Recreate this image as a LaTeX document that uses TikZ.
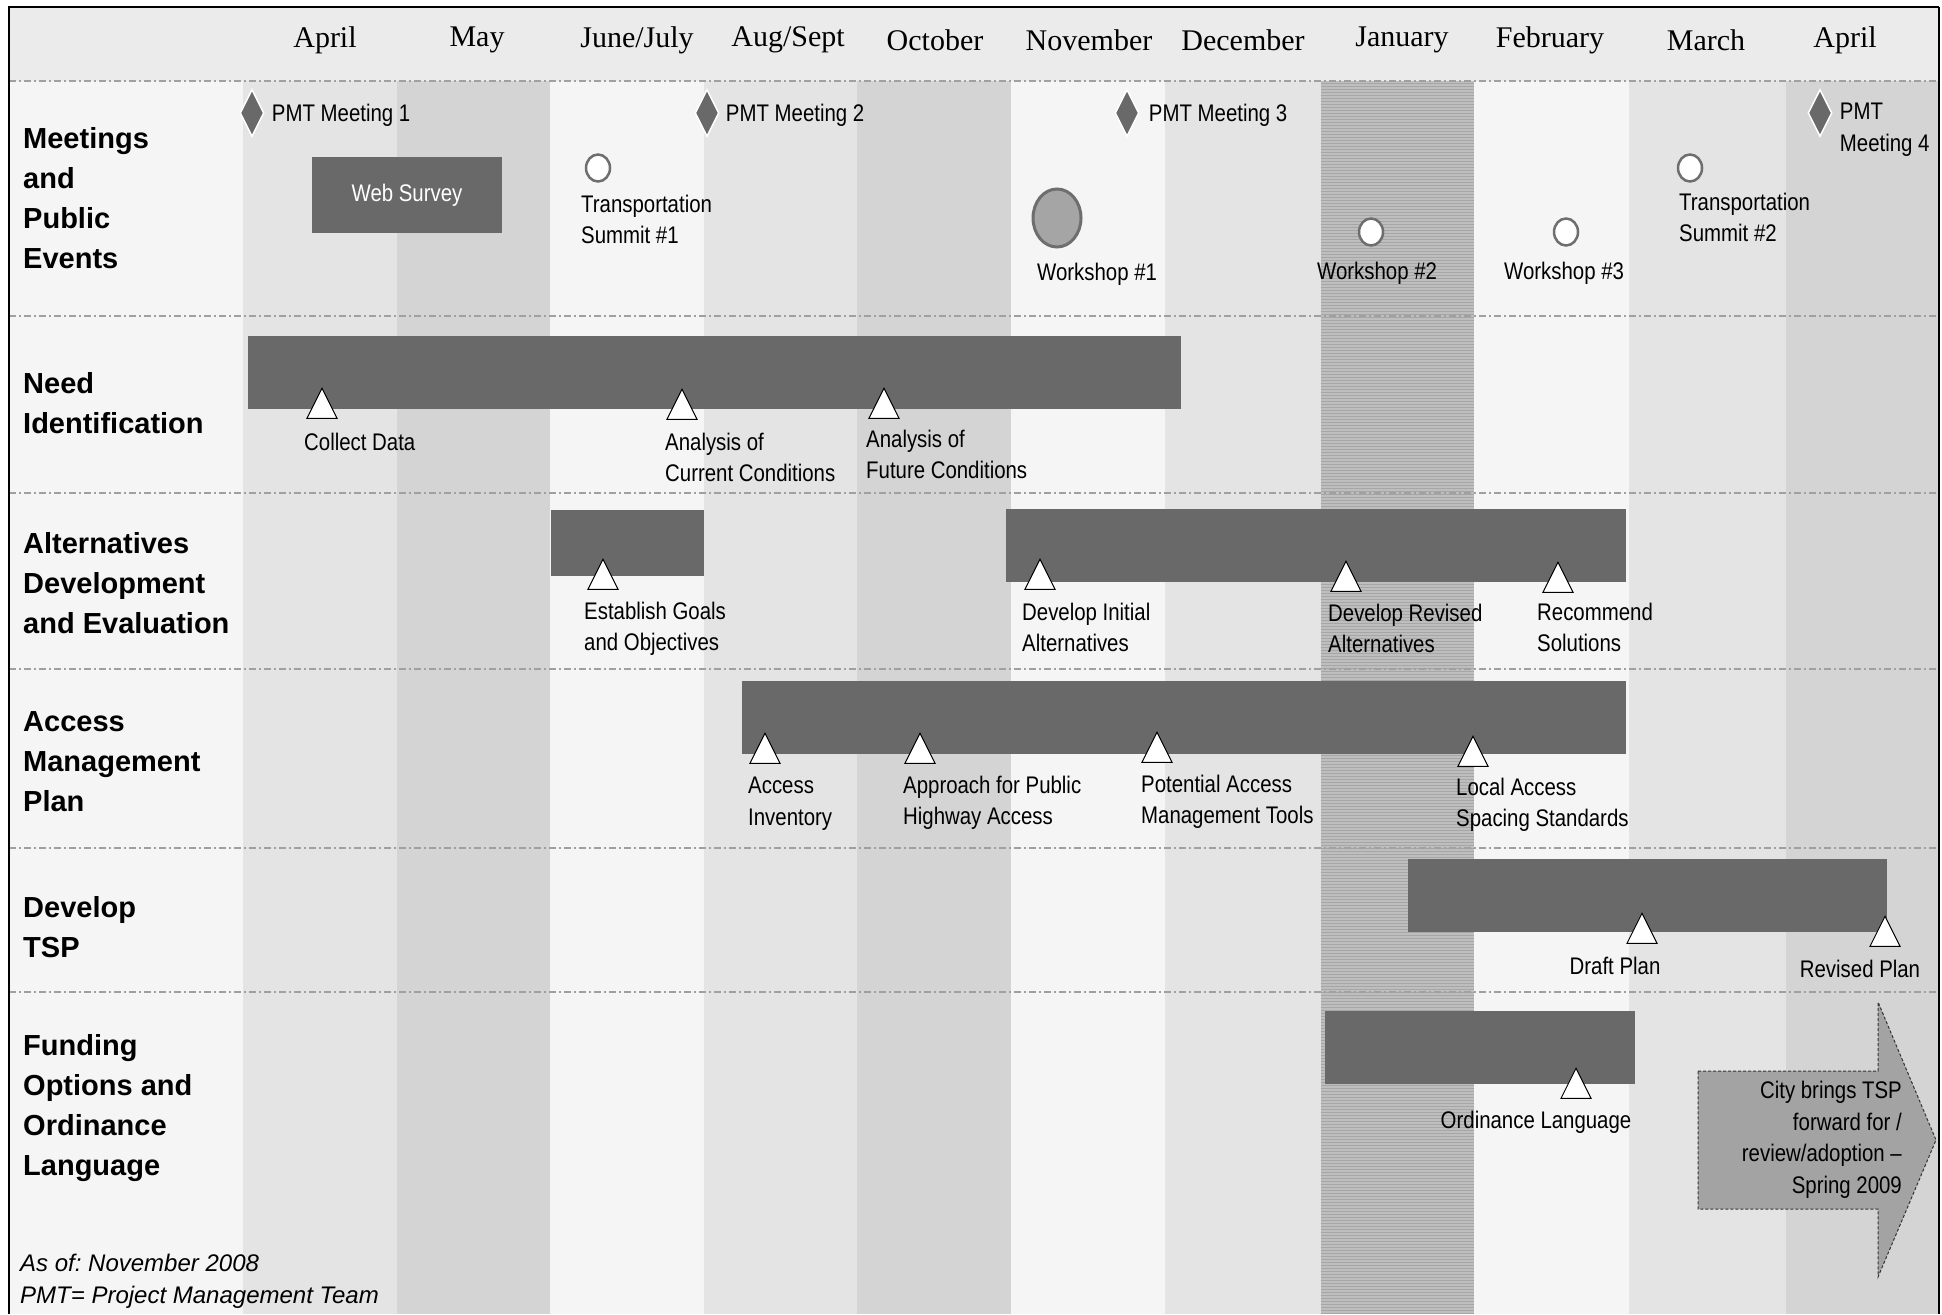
\documentclass[tikz,border=0pt]{standalone}
\usepackage{fontspec}
\usepackage{tikz}
\usetikzlibrary{shapes.geometric, positioning, patterns}

\setmainfont{Liberation Sans}
\newfontfamily\monthfont{Liberation Serif}
\newfontfamily\narrowfont[FakeStretch=0.85]{Liberation Sans}
\newfontfamily\notefont{Liberation Sans}
\frenchspacing

\definecolor{bargray}{HTML}{696969}
\definecolor{lightcol}{HTML}{F5F5F5}
\definecolor{midcol}{HTML}{E4E4E4}
\definecolor{darkcol}{HTML}{D4D4D4}
\definecolor{jancol}{HTML}{BEBEBE}
\definecolor{headcol}{HTML}{EBEBEB}
\definecolor{ringgray}{HTML}{6E6E6E}
\definecolor{workshopgray}{HTML}{A5A5A5}
\definecolor{arrowgray}{HTML}{A3A3A3}
\definecolor{rulegray}{HTML}{A0A0A0}

\tikzstyle{month} = [font=\monthfont\fontsize{30}{36}\selectfont, inner sep=0]
\tikzstyle{rowlabel} = [
	anchor=west,
	align=left,
	inner sep=0,
	font=\bfseries\fontsize{29}{40}\selectfont
]
\tikzstyle{tasktext} = [
	align=left,
	inner sep=0,
	font=\narrowfont\fontsize{24}{31.5}\selectfont
]
\tikzstyle{bar} = [rectangle, fill=bargray, inner sep=0]
\tikzstyle{milestone} = [
	isosceles triangle,
	isosceles triangle stretches,
	shape border rotate=90,
	minimum width=30pt,
	minimum height=30pt,
	inner sep=0,
	fill=white,
	draw=black,
	line width=1pt,
	anchor=apex
]
\tikzstyle{meeting} = [
	diamond,
	aspect=0.5,
	minimum width=24pt,
	minimum height=47pt,
	inner sep=0,
	fill=bargray,
	draw=white,
	line width=1.5pt
]
\tikzstyle{event} = [
	ellipse,
	minimum width=24pt,
	minimum height=27pt,
	inner sep=0,
	fill=white,
	draw=ringgray,
	line width=2.5pt
]
\tikzstyle{workshop} = [event, fill=workshopgray, minimum width=48pt, minimum height=58pt, line width=3pt]
\tikzstyle{rowline} = [rulegray, line width=1.5pt, dash pattern=on 7pt off 3pt on 2pt off 3pt]
\tikzstyle{cityarrow} = [fill=arrowgray, draw=black!80, line width=1pt, densely dashed]

\begin{document}
\begin{tikzpicture}[x=1pt, y=-1pt]
        \useasboundingbox (0,0) rectangle (1942,1314);
        % header and month columns
        \fill[white] (0,0) rectangle (1942,1314);
        \fill[headcol] (9,7) rectangle (1939,81);
        \fill[lightcol] (9,81) rectangle (243,1314);
        \fill[midcol] (243,81) rectangle (397,1314);
        \fill[darkcol] (397,81) rectangle (550,1314);
        \fill[lightcol] (550,81) rectangle (704,1314);
        \fill[midcol] (704,81) rectangle (857,1314);
        \fill[darkcol] (857,81) rectangle (1011,1314);
        \fill[lightcol] (1011,81) rectangle (1165,1314);
        \fill[midcol] (1165,81) rectangle (1321,1314);
        \fill[jancol] (1321,81) rectangle (1474,1314);
        \fill[pattern=horizontal lines, pattern color=black!35] (1321,81) rectangle (1474,1314);
        \fill[lightcol] (1474,81) rectangle (1629,1314);
        \fill[midcol] (1629,81) rectangle (1786,1314);
        \fill[darkcol] (1786,81) rectangle (1939,1314);
        % row rules
        \draw[rowline] (9,81) -- (1939,81);
        \draw[rowline] (9,316) -- (1939,316);
        \draw[rowline] (9,493) -- (1939,493);
        \draw[rowline] (9,669) -- (1939,669);
        \draw[rowline] (9,848) -- (1939,848);
        \draw[rowline] (9,992) -- (1939,992);
        \draw[line width=2.5pt] (9,1314) -- (9,7) -- (1939,7);
        \draw[line width=1.5pt] (1939,7) -- (1939,1314);

        \node (apr) [month] at (325,40) {April};
        \node (may) [month] at (477,40) {May};
        \node (junjul) [month] at (637,40) {June/July};
        \node (augsep) [month] at (788,40) {Aug/Sept};
        \node (oct) [month] at (935,40) {October};
        \node (nov) [month] at (1089,40) {November};
        \node (dec) [month] at (1243,40) {December};
        \node (jan) [month] at (1402,40) {January};
        \node (feb) [month] at (1550,40) {February};
        \node (mar) [month] at (1706,40) {March};
        \node (aprnext) [month] at (1845,40) {April};

        \node (meetings) [rowlabel] at (23,198) {Meetings\\and\\Public\\Events};
        \node (need) [rowlabel] at (23,403) {Need\\Identification};
        \node (alternatives) [rowlabel] at (23,583) {Alternatives\\Development\\and Evaluation};
        \node (access) [rowlabel] at (23,762) {Access\\Management\\Plan};
        \node (tsp) [rowlabel] at (23,927) {Develop\\TSP};
        \node (funding) [rowlabel] at (23,1108) {Funding\\Options and\\Ordinance\\Language};
        \node (asof) [anchor=west, align=left, inner sep=0, font=\notefont\itshape\fontsize{24}{32}\selectfont]
          at (20,1281) {As of: November 2008\\PMT= Project Management Team};

        % meetings and public events
        \node (pmt1) [meeting] at (252,113) {};
        \node (pmt1text) [tasktext, right=7pt of pmt1, yshift=-2pt] {PMT Meeting 1};
        \node (pmt2) [meeting] at (707,113) {};
        \node (pmt2text) [tasktext, right=6pt of pmt2, yshift=-2pt] {PMT Meeting 2};
        \node (pmt3) [meeting] at (1127,113) {};
        \node (pmt3text) [tasktext, right=9pt of pmt3, yshift=-2pt] {PMT Meeting 3};
        \node (pmt4) [meeting] at (1820,113) {};
        \node (pmt4text) [tasktext, below right=-10pt and 7pt of pmt4.east] {PMT\\Meeting 4};
        \node (websurvey) [bar, minimum width=190pt, minimum height=76pt, text=white,
          font=\narrowfont\fontsize{24}{30}\selectfont] at (407,195) {Web Survey};
        \node (summit1) [event] at (598,168) {};
        \node (summit1text) [tasktext, below right=12pt and -17pt of summit1.south] {Transportation\\Summit \#1};
        \node (ws1) [workshop] at (1057,218) {};
        \node (ws1text) [tasktext, below right=14pt and -20pt of ws1.south] {Workshop \#1};
        \node (ws2) [event] at (1371,232) {};
        \node (ws2text) [tasktext, below right=15pt and -54pt of ws2.south] {Workshop \#2};
        \node (ws3) [event] at (1566,232) {};
        \node (ws3text) [tasktext, below right=15pt and -62pt of ws3.south] {Workshop \#3};
        \node (summit2) [event] at (1690,168) {};
        \node (summit2text) [tasktext, below right=10pt and -11pt of summit2.south] {Transportation\\Summit \#2};

        % need identification
        \node (needbar) [bar, minimum width=933pt, minimum height=73pt] at (714,372) {};
        \node (collect) [milestone] at (322,387) {};
        \node (collecttext) [tasktext, below right=14pt and -18pt of collect.south] {Collect Data};
        \node (current) [milestone] at (682,388) {};
        \node (currenttext) [tasktext, below right=13pt and -17pt of current.south] {Analysis of\\Current Conditions};
        \node (future) [milestone] at (884,387) {};
        \node (futuretext) [tasktext, below right=11pt and -18pt of future.south] {Analysis of\\Future Conditions};

        % alternatives development and evaluation
        \node (goalsbar) [bar, minimum width=153pt, minimum height=66pt] at (627,543) {};
        \node (altbar) [bar, minimum width=620pt, minimum height=73pt] at (1316,545) {};
        \node (goals) [milestone] at (603,558) {};
        \node (goalstext) [tasktext, below right=12pt and -19pt of goals.south] {Establish Goals\\and Objectives};
        \node (initial) [milestone] at (1040,558) {};
        \node (initialtext) [tasktext, below right=13pt and -18pt of initial.south] {Develop Initial\\Alternatives};
        \node (revised) [milestone] at (1346,560) {};
        \node (revisedtext) [tasktext, below right=12pt and -18pt of revised.south] {Develop Revised\\Alternatives};
        \node (recommend) [milestone] at (1558,561) {};
        \node (recommendtext) [tasktext, below right=10pt and -21pt of recommend.south] {Recommend\\Solutions};

        % access management plan
        \node (accessbar) [bar, minimum width=884pt, minimum height=73pt] at (1184,717) {};
        \node (inventory) [milestone] at (765,732) {};
        \node (inventorytext) [tasktext, below right=13pt and -17pt of inventory.south] {Access\\Inventory};
        \node (approach) [milestone] at (920,732) {};
        \node (approachtext) [tasktext, below right=12pt and -17pt of approach.south] {Approach for Public\\Highway Access};
        \node (tools) [milestone] at (1157,731) {};
        \node (toolstext) [tasktext, below right=12pt and -16pt of tools.south] {Potential Access\\Management Tools};
        \node (spacing) [milestone] at (1473,735) {};
        \node (spacingtext) [tasktext, below right=11pt and -17pt of spacing.south] {Local Access\\Spacing Standards};

        % develop tsp
        \node (tspbar) [bar, minimum width=479pt, minimum height=73pt] at (1647,895) {};
        \node (draft) [milestone] at (1642,912) {};
        \node (drafttext) [tasktext, below=13pt of draft.south, xshift=-27pt] {Draft Plan};
        \node (revplan) [milestone] at (1885,915) {};
        \node (revplantext) [tasktext, below=13pt of revplan.south, xshift=-25pt] {Revised Plan};

        % funding options and ordinance language
        \node (ordbar) [bar, minimum width=310pt, minimum height=73pt] at (1480,1047) {};
        \node (ordinance) [milestone] at (1576,1067) {};
        \node (ordinancetext) [tasktext, below=12pt of ordinance.south, xshift=-40pt] {Ordinance Language};
        \draw[cityarrow] (1698,1071) -- (1878,1071) -- (1878,1002) -- (1936,1140)
          -- (1878,1277) -- (1878,1209) -- (1698,1209) -- cycle;
        \node (citytext) [tasktext, align=right, anchor=east] at (1902,1140)
          {City brings TSP\\forward for /\\review/adoption –\\Spring 2009};
      \end{tikzpicture}
\end{document}
